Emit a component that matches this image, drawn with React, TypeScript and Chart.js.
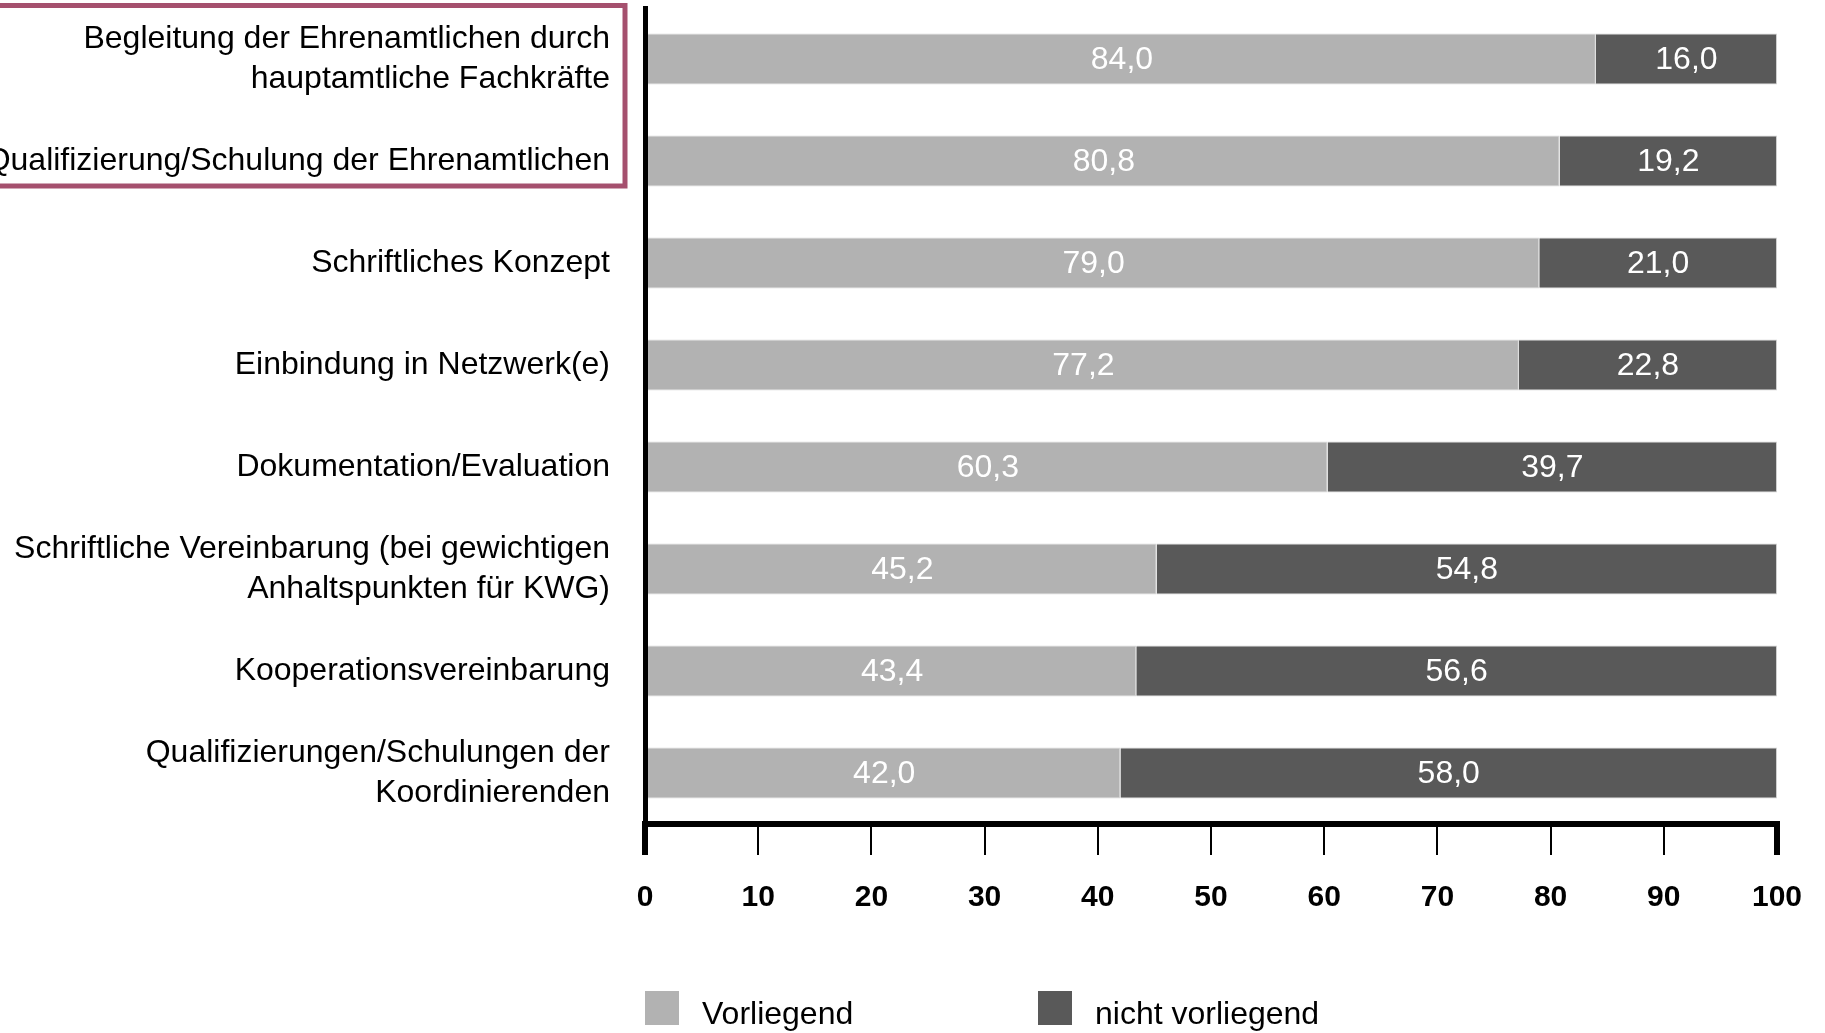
import React, { useEffect, useRef } from "react";
import { Chart, registerables } from "chart.js";

Chart.register(...registerables);

const categories: (string | string[])[] = [
  ["Begleitung der Ehrenamtlichen durch", "hauptamtliche Fachkräfte"],
  "Qualifizierung/Schulung der Ehrenamtlichen",
  "Schriftliches Konzept",
  "Einbindung in Netzwerk(e)",
  "Dokumentation/Evaluation",
  ["Schriftliche Vereinbarung (bei gewichtigen", "Anhaltspunkten für KWG)"],
  "Kooperationsvereinbarung",
  ["Qualifizierungen/Schulungen der", "Koordinierenden"],
];

const vorliegend = [84.0, 80.8, 79.0, 77.2, 60.3, 45.2, 43.4, 42.0];
const nichtVorliegend = [16.0, 19.2, 21.0, 22.8, 39.7, 54.8, 56.6, 58.0];

const seriesNames = ["Vorliegend", "nicht vorliegend"];
const seriesColors = ["#b2b2b2", "#595959"];

const xTickStep = 10;
const xMin = 0;
const xMax = 100;

const FONT = "'Liberation Sans', Arial, Helvetica, sans-serif";

const valueLabelPlugin = {
  id: "valueLabels",
  afterDatasetsDraw(chart: any) {
    const ctx = chart.ctx;
    ctx.save();
    ctx.fillStyle = "#ffffff";
    ctx.font = `32px ${FONT}`;
    ctx.textAlign = "center";
    ctx.textBaseline = "middle";
    chart.data.datasets.forEach((ds: any, di: number) => {
      const meta = chart.getDatasetMeta(di);
      meta.data.forEach((el: any, i: number) => {
        const v = ds.data[i] as number;
        const p = el.getCenterPoint();
        ctx.fillText(v.toFixed(1).replace(".", ","), p.x, p.y + 1);
      });
    });
    ctx.restore();
  },
};

const highlightPlugin = {
  id: "highlightBox",
  afterDraw(chart: any) {
    const ctx = chart.ctx;
    const y = chart.scales.y;
    const area = chart.chartArea;
    const top = area.top - 2.5;
    const bottom = y.getPixelForValue(1) + 25;
    const right = area.left - 20;
    ctx.save();
    ctx.strokeStyle = "#a5506e";
    ctx.lineWidth = 5;
    ctx.strokeRect(-10, top, right + 10, bottom - top);
    ctx.restore();
  },
};

const legendPlugin = {
  id: "customLegend",
  afterDraw(chart: any) {
    const ctx = chart.ctx;
    const area = chart.chartArea;
    const offsets = [0, 393];
    const boxTop = 991;
    const boxSize = 34;
    ctx.save();
    ctx.font = `32px ${FONT}`;
    ctx.textBaseline = "alphabetic";
    ctx.textAlign = "left";
    chart.data.datasets.forEach((ds: any, i: number) => {
      const x = area.left + offsets[i];
      ctx.fillStyle = ds.backgroundColor;
      ctx.fillRect(x, boxTop, boxSize, boxSize);
      ctx.fillStyle = "#000000";
      ctx.fillText(ds.label, x + 57, boxTop + 33);
    });
    ctx.restore();
  },
};

export default function App() {
  const canvasRef = useRef<HTMLCanvasElement | null>(null);

  useEffect(() => {
    if (!canvasRef.current) return;
    const chart = new Chart(canvasRef.current, {
      type: "bar",
      data: {
        labels: categories,
        datasets: [
          {
            label: seriesNames[0],
            data: vorliegend,
            backgroundColor: seriesColors[0],
            borderColor: "#d6d6d6",
            borderWidth: 1,
            barPercentage: 0.5,
            categoryPercentage: 1,
          },
          {
            label: seriesNames[1],
            data: nichtVorliegend,
            backgroundColor: seriesColors[1],
            borderColor: "#cfcfcf",
            borderWidth: 1,
            barPercentage: 0.5,
            categoryPercentage: 1,
          },
        ],
      },
      options: {
        indexAxis: "y",
        animation: false,
        responsive: true,
        maintainAspectRatio: false,
        devicePixelRatio: 1,
        layout: { padding: { top: 8, right: 48, bottom: 118, left: 0 } },
        plugins: {
          legend: { display: false },
          tooltip: { enabled: false },
        },
        scales: {
          x: {
            stacked: true,
            min: xMin,
            max: xMax,
            afterFit: (scale: any) => {
              scale.height = 91;
              scale.paddingLeft = 0;
              scale.paddingRight = 0;
            },
            ticks: {
              stepSize: xTickStep,
              color: "#000000",
              font: { family: FONT, size: 30, weight: "bold" },
              padding: 25,
              maxRotation: 0,
            },
            grid: {
              display: true,
              drawOnChartArea: false,
              drawTicks: true,
              tickLength: 31,
              color: "#000000",
              lineWidth: (c: any) => (c.index === 0 || c.index === 10 ? 6 : 2),
            },
            border: { display: true, color: "#000000", width: 6 },
          },
          y: {
            stacked: true,
            afterFit: (scale: any) => {
              scale.width = 645;
              scale.paddingTop = 0;
              scale.paddingBottom = 0;
            },
            ticks: {
              autoSkip: false,
              color: "#000000",
              font: { family: FONT, size: 32, lineHeight: 1.24 },
              padding: 35,
            },
            grid: { display: false, drawTicks: false },
            border: { display: true, color: "#000000", width: 5 },
          },
        },
      },
      plugins: [valueLabelPlugin, highlightPlugin, legendPlugin],
    } as any);
    return () => chart.destroy();
  }, []);

  return (
    <div
      style={{
        position: "fixed",
        left: 0,
        top: 0,
        width: "1825px",
        height: "1033px",
        background: "#ffffff",
      }}
    >
      <canvas ref={canvasRef} />
    </div>
  );
}
